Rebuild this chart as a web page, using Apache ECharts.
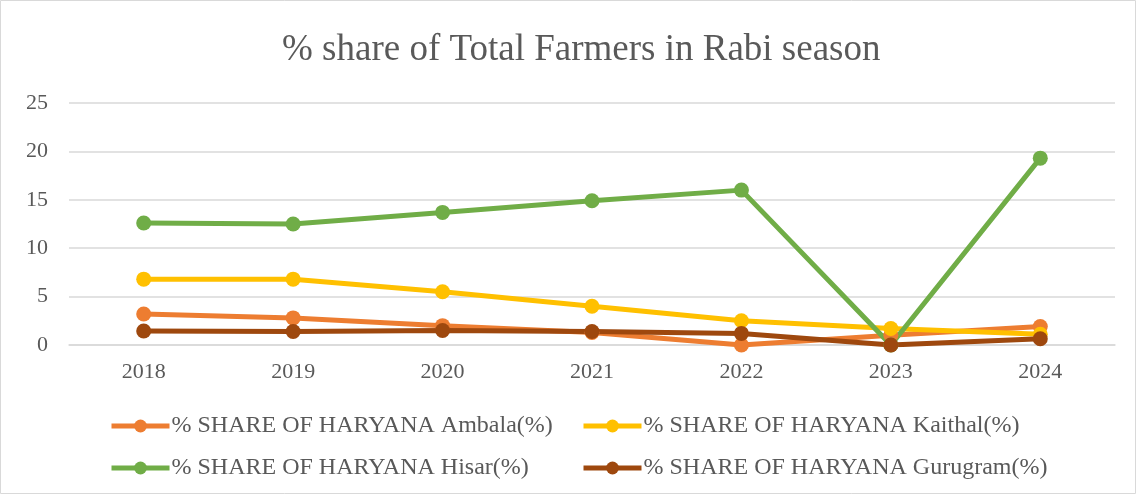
<!DOCTYPE html>
<html><head><meta charset="utf-8">
<script src="https://cdn.jsdelivr.net/npm/echarts@6/dist/echarts.min.js"></script>
<style>html,body{margin:0;padding:0;background:#fff}#c{width:1137px;height:495px}</style>
</head><body><div id="c"></div>
<script>
const categories = ['2018','2019','2020','2021','2022','2023','2024'];
const ambala = [3.2, 2.8, 2.0, 1.3, 0.0, 1.0, 1.9];
const kaithal = [6.8, 6.8, 5.5, 4.0, 2.5, 1.7, 1.1];
const hisar = [12.6, 12.5, 13.7, 14.9, 16.0, 0.0, 19.3];
const gurugram = [1.45, 1.4, 1.5, 1.4, 1.2, 0.0, 0.65];
const seriesNames = ['% SHARE OF HARYANA Ambala(%)','% SHARE OF HARYANA Kaithal(%)','% SHARE OF HARYANA Hisar(%)','% SHARE OF HARYANA Gurugram(%)'];
const colors = ['#ED7D31','#FFC000','#70AD47','#9E480E'];
const datas = [ambala, kaithal, hisar, gurugram];

const font = '"Liberation Serif","Times New Roman",serif';
const chart = echarts.init(document.getElementById('c'));
const legendPos = [[104,409],[576,409],[104,451],[576,451]];
chart.setOption({
  animation:false,
  title:{text:'% share of Total Farmers in Rabi season',left:277,top:27,
    textStyle:{fontFamily:font,fontSize:37,fontWeight:'normal',color:'#595959'}},
  graphic:[{type:'rect',shape:{x:0.5,y:0.5,width:1135,height:493},style:{fill:'none',stroke:'#d9d9d9',lineWidth:1}}],
  legend: seriesNames.map((n,i)=>({data:[n],left:legendPos[i][0],top:legendPos[i][1],itemWidth:58,itemHeight:16,itemGap:0,
    lineStyle:{width:5},
    textStyle:{fontFamily:font,fontSize:24,color:'#595959',padding:[0,0,0,-3]}})),
  grid:{left:69,right:22,top:103,bottom:150},
  xAxis:{type:'category',data:categories,boundaryGap:true,
    axisLine:{lineStyle:{color:'#d9d9d9',width:1.5}},axisTick:{show:false},
    axisLabel:{fontFamily:font,fontSize:22,color:'#595959',margin:16}},
  yAxis:{type:'value',min:0,max:25,interval:5,
    axisLine:{show:false},axisTick:{show:false},
    splitLine:{lineStyle:{color:'#d9d9d9',width:1.5}},
    axisLabel:{fontFamily:font,fontSize:22,color:'#595959',margin:21}},
  series: datas.map((d,i)=>({name:seriesNames[i],type:'line',data:d,color:colors[i],
    symbol:'circle',symbolSize:15,lineStyle:{width:5,color:colors[i]},itemStyle:{color:colors[i]}}))
});
</script></body></html>
